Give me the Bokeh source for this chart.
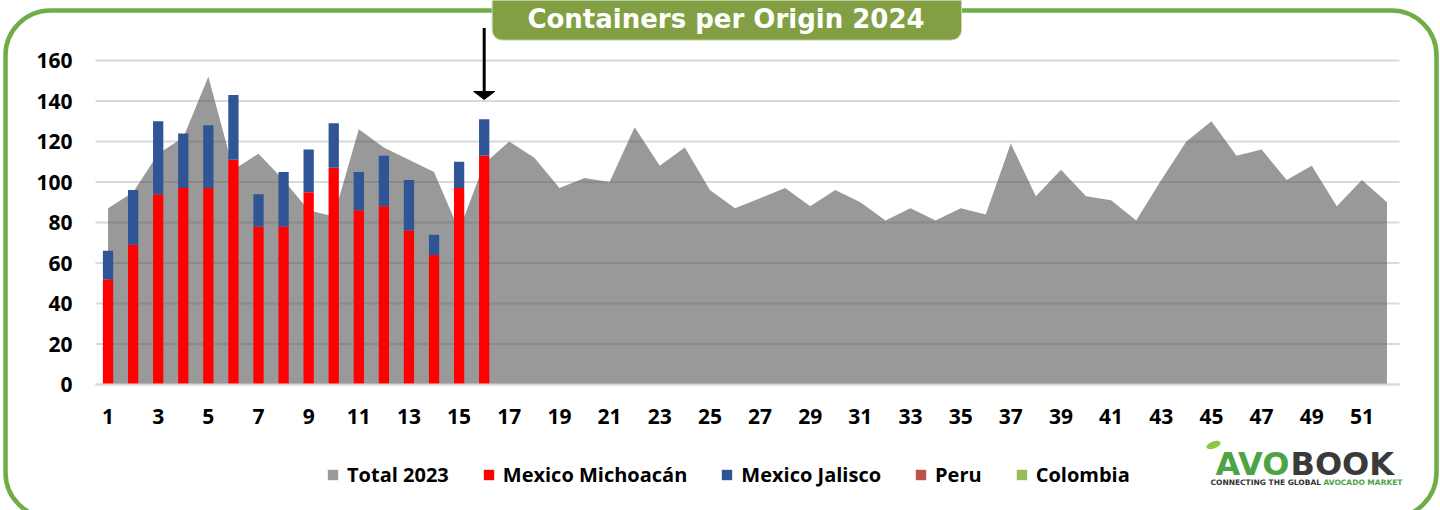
from bokeh.plotting import figure
from bokeh.models import (Range1d, FixedTicker, Legend, LegendItem, Label,
                          BoxAnnotation, ColumnDataSource)
from bokeh.embed import file_html
from bokeh.resources import INLINE

# ---------------- data ----------------
weeks_2023 = list(range(1, 53))
total_2023 = [87, 95, 114, 122, 152, 106, 114, 101, 86, 83,
              126, 117, 111, 105, 76, 109, 120, 112, 97, 102,
              100, 127, 108, 117, 96, 87, 92, 97, 88, 96,
              90, 81, 87, 81, 87, 84, 119, 93, 106, 93,
              91, 81, 101, 120, 130, 113, 116, 101, 108, 88,
              101, 90]

weeks_2024 = list(range(1, 17))
michoacan = [52, 69, 94, 97, 97, 111, 78, 78, 95, 107, 86, 88, 76, 64, 97, 113]
jalisco = [14, 27, 36, 27, 31, 32, 16, 27, 21, 22, 19, 25, 25, 10, 13, 18]
peru = [0, 0, 0, 0, 0, 0, 0, 0, 0, 0, 0, 0, 0, 0, 0, 0]
colombia = [0, 0, 0, 0, 0, 0, 0, 0, 0, 0, 0, 0, 0, 0, 0, 0]

series_names = ["Total 2023", "Mexico Michoacán", "Mexico Jalisco", "Peru", "Colombia"]
y_ticks = [0, 20, 40, 60, 80, 100, 120, 140, 160]
x_ticks = [1, 3, 5, 7, 9, 11, 13, 15, 17, 19, 21, 23, 25, 27, 29, 31, 33, 35,
           37, 39, 41, 43, 45, 47, 49, 51]
title_text = "Containers per Origin 2024"

# ---------------- layout constants (canvas px) ----------------
W, H = 1440, 510
PL, PR, PB = 95, 1399, 384            # plot area left / right / baseline
PX_PER_UNIT_Y = 2.025
WEEK_LO, WEEK_HI = 0.5, 52.5
PX_PER_UNIT_X = (PR - PL) / (WEEK_HI - WEEK_LO)


def fx(px):
    return WEEK_LO + (px - PL) / PX_PER_UNIT_X


def fy(py):
    return (PB - py) / PX_PER_UNIT_Y


p = figure(width=W, height=H,
           x_range=Range1d(fx(0), fx(W)), y_range=Range1d(fy(H), fy(0)),
           output_backend="svg", toolbar_location=None,
           min_border_left=0, min_border_right=0,
           min_border_top=0, min_border_bottom=0)
p.outline_line_color = None
p.background_fill_color = "white"
p.border_fill_color = "white"

# axes drawn inside the canvas at fixed positions
for ax in (p.xaxis, p.yaxis):
    ax.major_tick_line_color = None
    ax.minor_tick_line_color = None
    ax.major_tick_out = 0
    ax.major_tick_in = 0
    ax.minor_tick_out = 0
    ax.major_label_text_font = "Open Sans"
    ax.major_label_text_font_style = "bold"
    ax.major_label_text_font_size = "21px"
    ax.major_label_text_color = "#000000"

p.yaxis.ticker = FixedTicker(ticks=y_ticks)
p.yaxis.fixed_location = WEEK_LO
p.yaxis.axis_line_color = None
p.yaxis.major_label_standoff = 23

p.xaxis.ticker = FixedTicker(ticks=x_ticks)
p.xaxis.fixed_location = 0
p.xaxis.bounds = (WEEK_LO, WEEK_HI)
p.xaxis.axis_line_color = "#d9d9d9"
p.xaxis.axis_line_width = 2
p.xaxis.major_label_standoff = 24

p.xgrid.visible = False
p.ygrid.visible = False

# horizontal gridlines across the plot area only
p.segment(x0=[WEEK_LO] * len(y_ticks), x1=[WEEK_HI] * len(y_ticks),
          y0=y_ticks, y1=y_ticks, line_color="#d9d9d9", line_width=2,
          level="underlay")

# ---------------- glyphs ----------------
src23 = ColumnDataSource(dict(week=weeks_2023, total=total_2023))
area = p.varea(x="week", y1=0, y2="total", source=src23,
               fill_color="#555555", fill_alpha=0.6)

src24 = ColumnDataSource(dict(week=weeks_2024, mich=michoacan, jal=jalisco,
                              peru=peru, col=colombia))
bars = p.vbar_stack(["mich", "jal", "peru", "col"], x="week", width=0.41,
                    color=["#FF0000", "#2F5597", "#C0504D", "#9BBB59"],
                    line_color=None, source=src24)

# arrow pointing at the current week
current_week = weeks_2024[-1]
p.segment(x0=[current_week], y0=[fy(27.6)], x1=[current_week], y1=[fy(93)],
          line_width=3, line_color="black")
p.patch(x=[current_week - 0.42, current_week + 0.42, current_week],
        y=[fy(91), fy(91), fy(99)], fill_color="black", line_color="black")

# ---------------- legend ----------------
legend = Legend(items=[LegendItem(label=series_names[0], renderers=[area])] +
                [LegendItem(label=n, renderers=[r]) for n, r in zip(series_names[1:], bars)],
                orientation="horizontal", location=(326, 22),
                glyph_width=13, glyph_height=13, label_standoff=8, spacing=33,
                padding=0, margin=0, border_line_color=None,
                background_fill_alpha=0,
                label_text_font="Open Sans", label_text_font_style="bold",
                label_text_font_size="20px", label_text_color="#000000")
p.add_layout(legend)

# ---------------- decorations ----------------
border = BoxAnnotation(left=fx(5), right=fx(1436), top=fy(10), bottom=fy(517),
                       fill_color=None, fill_alpha=0, line_color="#70AD47",
                       line_alpha=1, line_width=4.5, border_radius=45,
                       level="overlay")
p.add_layout(border)

title_box = BoxAnnotation(left=fx(491.7), right=fx(961), top=fy(-40), bottom=fy(39.6),
                          fill_color="#82A043", fill_alpha=1,
                          line_color="#C9D6AE", line_alpha=1, line_width=1,
                          border_radius=10, level="overlay")
p.add_layout(title_box)

p.add_layout(Label(x=fx(725.5), y=fy(18.5), text=title_text, text_color="white",
                   text_font="DejaVu Sans", text_font_style="bold",
                   text_font_size="26px", text_align="center",
                   text_baseline="middle", level="overlay"))

# logo
p.ellipse(x=[fx(1213)], y=[fy(444.5)], width=[15], height=[7],
          width_units="screen", height_units="screen", angle=[0.35],
          fill_color="#8DC63F", line_color=None)
p.add_layout(Label(x=fx(1215), y=fy(463), text="AVO", text_color="#4CA445",
                   text_font="DejaVu Sans", text_font_style="bold",
                   text_font_size="32px", text_baseline="middle"))
p.add_layout(Label(x=fx(1290), y=fy(463), text="BOOK", text_color="#3A3A3A",
                   text_font="DejaVu Sans", text_font_style="bold",
                   text_font_size="32px", text_baseline="middle"))
p.add_layout(Label(x=fx(1210), y=fy(482.3), text="CONNECTING THE GLOBAL",
                   text_color="#333333", text_font="DejaVu Sans",
                   text_font_style="bold", text_font_size="7.5px",
                   text_baseline="middle"))
p.add_layout(Label(x=fx(1323), y=fy(482.3), text="AVOCADO MARKET",
                   text_color="#4CA445", text_font="DejaVu Sans",
                   text_font_style="bold", text_font_size="7.5px",
                   text_baseline="middle"))

open("out.html", "w").write(file_html(p, INLINE))
